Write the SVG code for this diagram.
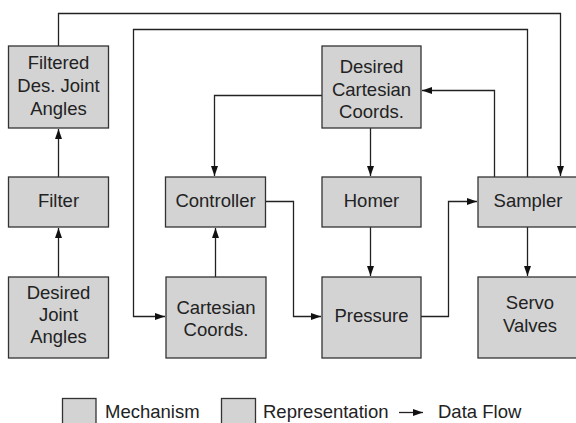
<svg xmlns="http://www.w3.org/2000/svg" width="576" height="423" viewBox="0 0 576 423">
<style>
.box{fill:#d3d3d3;stroke:#333;stroke-width:1.3}
.lbl{font-family:"Liberation Sans",Arial,sans-serif;font-size:18.5px;fill:#222;text-anchor:middle}
.leg{font-family:"Liberation Sans",Arial,sans-serif;font-size:18.5px;fill:#222}
.con{fill:none;stroke:#222;stroke-width:1.3}
</style>
<defs>
<marker id="ah" markerUnits="userSpaceOnUse" markerWidth="11" markerHeight="8" refX="10" refY="3.5" orient="auto">
<path d="M0,0 L10,3.5 L0,7 z" fill="#111"/>
</marker>
</defs>
<rect width="576" height="423" fill="#fff"/>
<g id="connectors">
<path class="con" d="M58.5,177 V129" marker-end="url(#ah)"/>
<path class="con" d="M58.5,277 V228" marker-end="url(#ah)"/>
<path class="con" d="M215.5,277 V228" marker-end="url(#ah)"/>
<path class="con" d="M322,95.5 H214.5 V176" marker-end="url(#ah)"/>
<path class="con" d="M370.5,128 V176" marker-end="url(#ah)"/>
<path class="con" d="M370.5,227 V276" marker-end="url(#ah)"/>
<path class="con" d="M265,201.5 H293.5 V316.5 H321" marker-end="url(#ah)"/>
<path class="con" d="M421,316.5 H448.5 V201.5 H477" marker-end="url(#ah)"/>
<path class="con" d="M527.5,227 V276" marker-end="url(#ah)"/>
<path class="con" d="M494.5,177 V90.5 H422" marker-end="url(#ah)"/>
<path class="con" d="M527.5,177 V29.5 H133.5 V316.5 H165" marker-end="url(#ah)"/>
<path class="con" d="M58.5,46 V13.5 H560.5 V176" marker-end="url(#ah)"/>
</g>
<g id="filtered">
<rect class="box" x="8.5" y="46" width="100" height="82"/>
<text class="lbl" x="58.5" y="69">Filtered</text>
<text class="lbl" x="58.5" y="92">Des. Joint</text>
<text class="lbl" x="58.5" y="114.5">Angles</text>
</g>
<g id="filter">
<rect class="box" x="8.5" y="177" width="100" height="50"/>
<text class="lbl" x="58.5" y="207">Filter</text>
</g>
<g id="desired_joint_angles">
<rect class="box" x="8.5" y="277" width="100" height="81"/>
<text class="lbl" x="58.5" y="298.5">Desired</text>
<text class="lbl" x="58.5" y="321">Joint</text>
<text class="lbl" x="58.5" y="343">Angles</text>
</g>
<g id="controller">
<rect class="box" x="165.5" y="177" width="100" height="50"/>
<text class="lbl" x="215.5" y="207">Controller</text>
</g>
<g id="cartesian_coords">
<rect class="box" x="166" y="277" width="100" height="81"/>
<text class="lbl" x="216" y="314">Cartesian</text>
<text class="lbl" x="216" y="336">Coords.</text>
</g>
<g id="desired_cartesian">
<rect class="box" x="322" y="46" width="99" height="82"/>
<text class="lbl" x="371.5" y="72.5">Desired</text>
<text class="lbl" x="371.5" y="95.5">Cartesian</text>
<text class="lbl" x="371.5" y="118">Coords.</text>
</g>
<g id="homer">
<rect class="box" x="322" y="177" width="99" height="50"/>
<text class="lbl" x="371.5" y="207">Homer</text>
</g>
<g id="pressure">
<rect class="box" x="322" y="277" width="99" height="81"/>
<text class="lbl" x="371.5" y="322">Pressure</text>
</g>
<g id="sampler">
<rect class="box" x="478" y="177" width="100" height="50"/>
<text class="lbl" x="528" y="206.5">Sampler</text>
</g>
<g id="servo_valves">
<rect class="box" x="478" y="277" width="100" height="81"/>
<text class="lbl" x="530" y="309">Servo</text>
<text class="lbl" x="530" y="331.5">Valves</text>
</g>
<g id="legend">
<rect class="box" x="62.5" y="398.5" width="33.5" height="30"/>
<text class="leg" x="105" y="418">Mechanism</text>
<rect class="box" x="221.5" y="398.5" width="34" height="30"/>
<text class="leg" x="263" y="418">Representation</text>
<path class="con" d="M399,412.5 H423" marker-end="url(#ah)"/>
<text class="leg" x="438" y="418">Data Flow</text>
</g>
</svg>
